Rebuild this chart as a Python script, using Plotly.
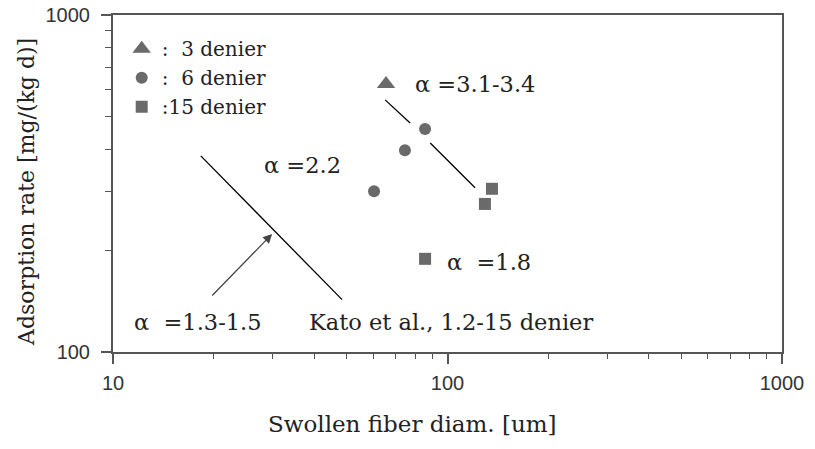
import math
import plotly.graph_objects as go

# Measured adsorption rates versus swollen fiber diameter
diam_3den = [65.5]
rate_3den = [624]
diam_6den = [60.3, 74.6, 85.7]
rate_6den = [300, 397, 459]
diam_15den = [135.8, 129.4, 85.7]
rate_15den = [305, 275, 189]

# Kato et al. trend line, 1.2-15 denier
kato_diam = [18.3, 48.4]
kato_rate = [382, 143]

# Slope guide through the 3-15 denier data (broken around a point)
guide_a_diam = [65.1, 77.3]
guide_a_rate = [560, 478]
guide_b_diam = [88.8, 120.9]
guide_b_rate = [417, 307]

# Arrow pointing at the Kato line
arrow_tail = (19.6, 145.6)
arrow_head = (29.9, 224)

legend_names = [":\u00a0\u00a03 denier", ":\u00a0\u00a06 denier", ":15 denier"]

SERIF = "DejaVu Serif, Liberation Serif, serif"
SANS = "Liberation Sans, Arial, sans-serif"
MARK = "#6a6a6a"
AXIS = "#555555"
TEXT = "#222222"

fig = go.Figure()
fig.add_trace(go.Scatter(x=diam_3den, y=rate_3den, mode="markers", name=legend_names[0],
                         marker=dict(symbol="triangle-up", size=16, color=MARK)))
fig.add_trace(go.Scatter(x=diam_6den, y=rate_6den, mode="markers", name=legend_names[1],
                         marker=dict(symbol="circle", size=12, color=MARK)))
fig.add_trace(go.Scatter(x=diam_15den, y=rate_15den, mode="markers", name=legend_names[2],
                         marker=dict(symbol="square", size=12, color=MARK)))

for xs, ys in [(kato_diam, kato_rate), (guide_a_diam, guide_a_rate), (guide_b_diam, guide_b_rate)]:
    fig.add_trace(go.Scatter(x=xs, y=ys, mode="lines", showlegend=False,
                             line=dict(color="black", width=1.3)))

labels = [
    ("\u03b1\u00a0=3.1-3.4", 78.9, 624),
    ("\u03b1\u00a0=2.2", 27.9, 359),
    ("\u03b1\u00a0\u00a0=1.8", 98.4, 185),
    ("\u03b1\u00a0\u00a0=1.3-1.5", 11.4, 123),
    ("Kato et al., 1.2-15 denier", 38.0, 123),
]
annotations = []
for text, xv, yv in labels:
    annotations.append(dict(x=math.log10(xv), y=math.log10(yv), xref="x", yref="y",
                            text=text, showarrow=False, xanchor="left", yanchor="middle",
                            font=dict(family=SERIF, size=22.5, color=TEXT)))
annotations.append(dict(x=math.log10(arrow_head[0]), y=math.log10(arrow_head[1]),
                        ax=math.log10(arrow_tail[0]), ay=math.log10(arrow_tail[1]),
                        xref="x", yref="y", axref="x", ayref="y", text="",
                        showarrow=True, arrowhead=2, arrowsize=1.4, arrowwidth=1.3,
                        arrowcolor="#444"))

# Axis titles
annotations.append(dict(text="Swollen fiber diam. [um]", x=0.448, y=-0.214,
                        xref="paper", yref="paper", showarrow=False,
                        xanchor="center", yanchor="middle",
                        font=dict(family=SERIF, size=23, color=TEXT)))
annotations.append(dict(text="Adsorption rate [mg/(kg d)]", x=-0.1286, y=0.475,
                        xref="paper", yref="paper", showarrow=False, textangle=-90,
                        xanchor="center", yanchor="middle",
                        font=dict(family=SERIF, size=22, color=TEXT)))

axis_common = dict(type="log", showgrid=False, zeroline=False, showline=True,
                   linecolor=AXIS, linewidth=2, mirror=True, ticks="outside",
                   ticklen=10, tickwidth=1.5, tickcolor=AXIS,
                   automargin=False)

x_ticks = [10, 100, 1000]
y_ticks = [100, 1000]
TICK_FONT = dict(family=SANS, size=20, color="#333")

fig.update_xaxes(**axis_common, range=[1, 3], ticklabelstandoff=2,
                 tickmode="array", tickvals=x_ticks, ticktext=[str(v) for v in x_ticks],
                 tickfont=TICK_FONT,
                 minor=dict(ticks="outside", ticklen=5, tickwidth=1.2,
                            tickcolor=AXIS, dtick="D1", showgrid=False))
fig.update_yaxes(**axis_common, range=[2, 3], ticklabelstandoff=7,
                 tickmode="array", tickvals=y_ticks, ticktext=[str(v) for v in y_ticks],
                 tickfont=TICK_FONT,
                 minor=dict(ticks="outside", ticklen=6, tickwidth=1.2,
                            tickcolor=AXIS, dtick="D1", showgrid=False))

fig.update_layout(
    width=815, height=449,
    margin=dict(l=113, r=33, t=15, b=97),
    paper_bgcolor="white", plot_bgcolor="white",
    annotations=annotations,
    showlegend=True,
    legend=dict(x=0.013, y=0.958, xanchor="left", yanchor="top",
                bgcolor="rgba(0,0,0,0)", itemwidth=30,
                font=dict(family=SERIF, size=20, color=TEXT),
                tracegroupgap=0),
)

fig.write_html("out.html")
